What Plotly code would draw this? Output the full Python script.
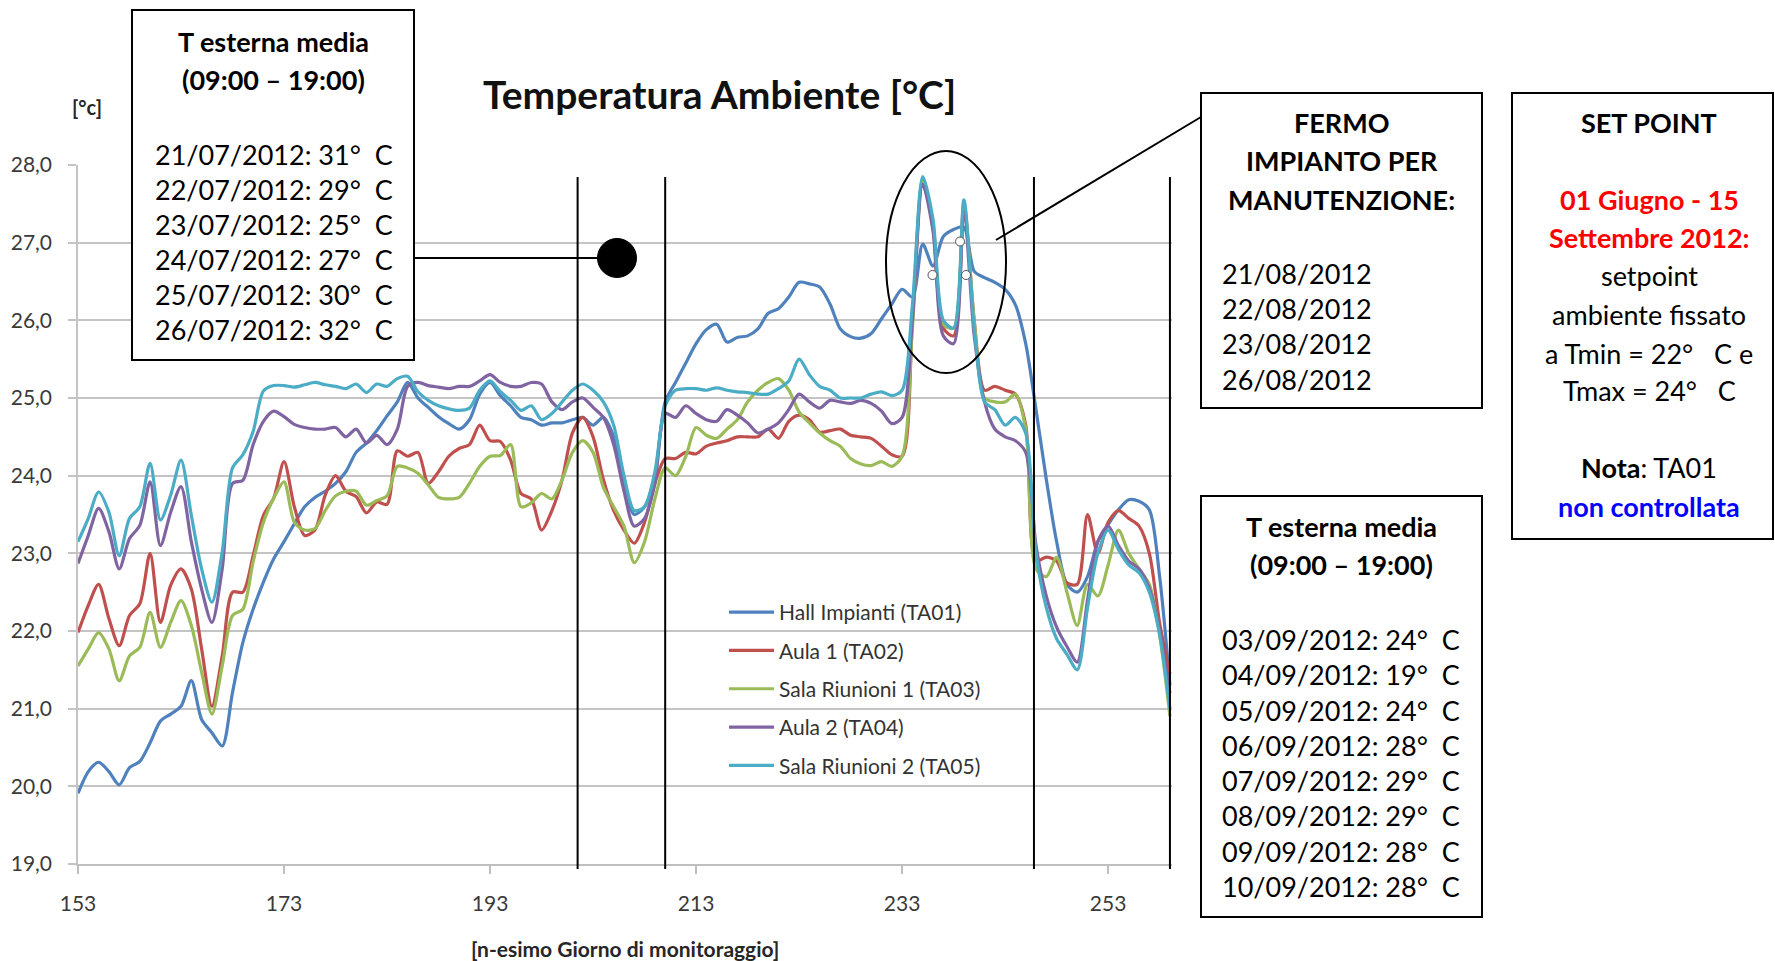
import plotly.graph_objects as go

# ---------------- data ----------------
days = list(range(153, 260))

ta01 = [19.91, 20.19, 20.31, 20.19, 20.02, 20.24, 20.32, 20.56, 20.84, 20.93,
        21.03, 21.36, 20.86, 20.69, 20.52, 21.21, 21.85, 22.28, 22.63, 22.93,
        23.15, 23.38, 23.60, 23.72, 23.80, 23.90, 24.05, 24.30, 24.42, 24.58,
        24.77, 24.95, 25.20, 25.00, 24.88, 24.76, 24.67, 24.60, 24.72, 25.05,
        25.20, 25.03, 24.90, 24.75, 24.72, 24.65, 24.68, 24.68, 24.72, 24.75,
        24.65, 24.75, 24.50, 23.90, 23.50, 23.60, 24.00, 24.95, 25.20, 25.45,
        25.70, 25.88, 25.95, 25.72, 25.78, 25.80, 25.89, 26.09, 26.15, 26.30,
        26.49, 26.47, 26.43, 26.21, 25.89, 25.79, 25.77, 25.83, 26.02, 26.21,
        26.40, 26.30, 26.98, 26.70, 27.08, 27.17, 27.20, 26.63, 26.55, 26.49,
        26.40, 26.20, 25.70, 24.85, 23.95, 23.15, 22.60, 22.50, 22.70, 23.15,
        23.37, 23.56, 23.69, 23.67, 23.56, 22.70, 21.30]

ta02 = [21.98, 22.33, 22.60, 22.16, 21.81, 22.20, 22.35, 23.00, 22.11, 22.59,
        22.80, 22.54, 21.77, 21.03, 21.68, 22.50, 22.50, 22.97, 23.49, 23.71,
        24.18, 23.60, 23.23, 23.30, 23.75, 24.00, 23.80, 23.73, 23.52, 23.66,
        23.63, 24.32, 24.25, 24.30, 23.90, 24.05, 24.25, 24.35, 24.40, 24.65,
        24.45, 24.44, 24.20, 23.77, 23.70, 23.30, 23.55, 23.95, 24.55, 24.75,
        24.50, 23.95, 23.55, 23.30, 23.13, 23.40, 23.90, 24.22, 24.22, 24.30,
        24.28, 24.38, 24.42, 24.45, 24.50, 24.50, 24.50, 24.60, 24.48, 24.70,
        24.78, 24.72, 24.56, 24.58, 24.60, 24.52, 24.50, 24.48, 24.38, 24.27,
        24.25, 26.00, 27.80, 27.20, 25.90, 25.80, 27.50, 26.00, 25.10, 25.15,
        25.10, 25.05, 24.65, 22.90, 22.95, 22.90, 22.62, 22.60, 23.50, 23.00,
        23.40, 23.55, 23.45, 23.35, 23.00, 22.10, 21.45]

ta03 = [21.55, 21.77, 21.98, 21.77, 21.36, 21.68, 21.79, 22.24, 21.79, 22.11,
        22.39, 22.07, 21.47, 20.93, 21.55, 22.20, 22.28, 22.89, 23.40, 23.71,
        23.92, 23.40, 23.30, 23.32, 23.55, 23.74, 23.80, 23.80, 23.62, 23.68,
        23.74, 24.12, 24.10, 24.03, 23.88, 23.72, 23.70, 23.72, 23.90, 24.12,
        24.25, 24.26, 24.40, 23.60, 23.65, 23.77, 23.70, 23.95, 24.30, 24.45,
        24.30, 23.85, 23.60, 23.35, 22.88, 23.15, 23.70, 24.10, 24.00, 24.25,
        24.62, 24.52, 24.48, 24.60, 24.72, 24.95, 25.10, 25.20, 25.25, 25.10,
        24.82, 24.68, 24.55, 24.45, 24.38, 24.22, 24.15, 24.13, 24.18, 24.12,
        24.25, 25.90, 27.80, 27.25, 25.95, 25.90, 27.45, 26.00, 25.00, 24.95,
        24.95, 25.05, 24.60, 22.80, 22.70, 22.95, 22.50, 22.07, 22.60, 22.45,
        22.85, 23.30, 23.00, 22.80, 22.60, 21.95, 20.90]

ta04 = [22.87, 23.23, 23.58, 23.28, 22.80, 23.19, 23.36, 23.92, 23.10, 23.53,
        23.86, 23.15, 22.54, 22.11, 22.80, 23.90, 23.94, 24.40, 24.70, 24.83,
        24.76, 24.66, 24.62, 24.60, 24.60, 24.62, 24.50, 24.60, 24.42, 24.52,
        24.40, 24.60, 25.15, 25.20, 25.16, 25.14, 25.12, 25.15, 25.15, 25.22,
        25.30, 25.20, 25.15, 25.15, 25.20, 25.18, 24.95, 24.85, 24.95, 25.00,
        24.88, 24.75, 24.40, 23.80, 23.35, 23.45, 23.90, 24.80, 24.75, 24.90,
        24.80, 24.72, 24.70, 24.85, 24.78, 24.68, 24.55, 24.60, 24.68, 24.85,
        25.05, 24.95, 24.87, 24.97, 24.95, 24.93, 24.97, 24.93, 24.83, 24.67,
        24.75, 26.00, 27.75, 27.15, 25.80, 25.70, 27.40, 25.80, 24.95, 24.60,
        24.50, 24.45, 24.30, 23.10, 22.45, 22.05, 21.80, 21.60, 22.40, 23.15,
        23.35, 23.10, 22.90, 22.80, 22.55, 22.00, 21.20]

ta05 = [23.15, 23.45, 23.79, 23.53, 22.97, 23.45, 23.60, 24.16, 23.43, 23.75,
        24.20, 23.49, 22.80, 22.37, 23.02, 24.10, 24.27, 24.57, 25.09, 25.16,
        25.16, 25.14, 25.17, 25.20, 25.17, 25.15, 25.12, 25.18, 25.07, 25.18,
        25.15, 25.25, 25.28, 25.08, 24.97, 24.90, 24.86, 24.84, 24.87, 25.10,
        25.22, 25.08, 24.97, 24.84, 24.90, 24.72, 24.80, 24.95, 25.10, 25.18,
        25.10, 24.95, 24.65, 24.00, 23.55, 23.60, 24.05, 24.90, 25.10, 25.12,
        25.12, 25.10, 25.13, 25.10, 25.08, 25.07, 25.05, 25.05, 25.12, 25.22,
        25.50, 25.30, 25.15, 25.10, 25.00, 25.00, 25.00, 25.05, 25.08, 25.03,
        25.10, 26.20, 27.85, 27.30, 26.00, 25.90, 27.55, 25.90, 24.95, 24.85,
        24.65, 24.75, 24.55, 23.00, 22.30, 21.90, 21.70, 21.50, 22.30, 23.00,
        23.30, 23.05, 22.85, 22.75, 22.50, 21.95, 21.00]

series_names = ["Hall Impianti (TA01)", "Aula 1 (TA02)", "Sala Riunioni 1 (TA03)",
                "Aula 2 (TA04)", "Sala Riunioni 2 (TA05)"]
series_values = [ta01, ta02, ta03, ta04, ta05]
series_colors = ["#4F81BD", "#C0504D", "#9BBB59", "#8064A2", "#4BACC6"]

y_tickvals = [19, 20, 21, 22, 23, 24, 25, 26, 27, 28]
y_ticktext = ["19,0", "20,0", "21,0", "22,0", "23,0", "24,0", "25,0", "26,0", "27,0", "28,0"]
x_tickvals = [153, 173, 193, 213, 233, 253]
x_ticktext = ["153", "173", "193", "213", "233", "253"]

period_lines = [201.5, 210.0, 245.8, 259.0]

box1_title = ["T esterna media", "(09:00 – 19:00)"]
box1_lines = ["21/07/2012: 31°", "22/07/2012: 29°", "23/07/2012: 25°",
              "24/07/2012: 27°", "25/07/2012: 30°", "26/07/2012: 32°"]
box2_title = ["FERMO", "IMPIANTO PER", "MANUTENZIONE:"]
box2_lines = ["21/08/2012", "22/08/2012", "23/08/2012", "26/08/2012"]
box4_title = ["T esterna media", "(09:00 – 19:00)"]
box4_lines = ["03/09/2012: 24°", "04/09/2012: 19°", "05/09/2012: 24°", "06/09/2012: 28°",
              "07/09/2012: 29°", "08/09/2012: 29°", "09/09/2012: 28°", "10/09/2012: 28°"]

# ---------------- layout geometry ----------------
W, H = 1775, 961
ML, MR, MT, MB = 78, 603, 165, 97
PW, PH = W - ML - MR, H - MT - MB


def px(x):
    return (x - ML) / PW


def py(y):
    return (H - MB - y) / PH


FONT = "Lato"
fig = go.Figure()

for name, vals, col in zip(series_names, series_values, series_colors):
    fig.add_trace(go.Scatter(
        x=days, y=vals, name=name, mode="lines", legendgroup=name,
        line=dict(color=col, width=3.2, shape="spline", smoothing=0.8),
    ))

shapes = []
annotations = []

# vertical period lines
for d in period_lines:
    shapes.append(dict(type="line", xref="x", yref="paper", x0=d, x1=d,
                       y0=py(869), y1=py(177), line=dict(color="black", width=2)))


def rect(x0, y0, x1, y1):
    shapes.append(dict(type="rect", xref="paper", yref="paper",
                       x0=px(x0), x1=px(x1), y0=py(y1), y1=py(y0),
                       line=dict(color="black", width=2), fillcolor="white", layer="above"))


rect(132, 10, 414, 360)
rect(1201, 93, 1482, 408)
rect(1512, 93, 1773, 539)
rect(1201, 496, 1482, 917)

# ellipse, callouts, dot
shapes.append(dict(type="circle", xref="paper", yref="paper",
                   x0=px(886), x1=px(1006), y0=py(373), y1=py(151),
                   line=dict(color="black", width=2)))
shapes.append(dict(type="line", xref="paper", yref="paper",
                   x0=px(996), y0=py(240), x1=px(1201), y1=py(117),
                   line=dict(color="black", width=2)))
shapes.append(dict(type="line", xref="paper", yref="paper",
                   x0=px(414), y0=py(258), x1=px(600), y1=py(258),
                   line=dict(color="black", width=2)))
shapes.append(dict(type="circle", xref="paper", yref="paper",
                   x0=px(597.5), x1=px(636.5), y0=py(277.5), y1=py(238.5),
                   fillcolor="black", line=dict(color="black", width=1)))
for cx, cy in [(932.5, 275), (960, 241.5), (966, 275)]:
    shapes.append(dict(type="circle", xref="paper", yref="paper",
                       x0=px(cx - 4.5), x1=px(cx + 4.5), y0=py(cy + 4.5), y1=py(cy - 4.5),
                       fillcolor="white", line=dict(color="#555555", width=1)))


def text(x, y, s, size=27, color="black", anchor="left", bold=False):
    if bold:
        s = "<b>" + s + "</b>"
    annotations.append(dict(xref="paper", yref="paper", x=px(x), y=py(y), text=s,
                            showarrow=False, xanchor=anchor, yanchor="middle",
                            font=dict(family=FONT, size=size, color=color)))


NB = "\u00a0"
# box 1
for i, s in enumerate(box1_title):
    text(273, 41 + i * 38.5, s, bold=True, anchor="center")
for i, s in enumerate(box1_lines):
    text(153, 154 + i * 35.1, s + NB * 2 + "C")
# box 2
for i, s in enumerate(box2_title):
    text(1341.5, 122.3 + i * 38.5, s, bold=True, anchor="center")
for i, s in enumerate(box2_lines):
    text(1220, 273 + i * 35.4, s)
# box 3 (set point)
c3 = 1649
text(c3, 122.3, "SET POINT", bold=True, anchor="center")
text(c3, 199.2, "01 Giugno - 15", bold=True, anchor="center", color="#FF0000")
text(c3, 237.7, "Settembre 2012:", bold=True, anchor="center", color="#FF0000")
text(c3, 275.5, "setpoint", anchor="center")
text(c3, 314.5, "ambiente fissato", anchor="center")
text(c3, 353, "a Tmin = 22°" + NB * 3 + "C e", anchor="center")
text(c3, 390.5, "Tmax = 24°" + NB * 3 + "C", anchor="center")
text(c3, 467.5, "<b>Nota</b>: TA01", anchor="center")
text(c3, 506, "non controllata", bold=True, anchor="center", color="#0000FF")
# box 4
for i, s in enumerate(box4_title):
    text(1341.5, 526.5 + i * 37.5, s, bold=True, anchor="center")
for i, s in enumerate(box4_lines):
    text(1220, 639.6 + i * 35.25, s + NB * 2 + "C")

# chart title and axis labels
text(719, 94, "Temperatura Ambiente [°C]", size=39, bold=True, anchor="center", color="#111111")
text(87, 107, "[°c]", size=20, bold=True, anchor="center", color="#262626")
text(625, 948, "[n-esimo Giorno di monitoraggio]", size=21, bold=True, anchor="center", color="#262626")

fig.update_layout(
    width=W, height=H,
    margin=dict(l=ML, r=MR, t=MT, b=MB, autoexpand=False),
    paper_bgcolor="white", plot_bgcolor="white",
    showlegend=True,
    legend=dict(x=px(724), y=py(592), xanchor="left", yanchor="top",
                font=dict(family=FONT, size=21, color="#333333"),
                bgcolor="rgba(0,0,0,0)", tracegroupgap=8, itemwidth=45),
    xaxis=dict(range=[153, 259.2], tickvals=x_tickvals, ticktext=x_ticktext,
               showgrid=False, zeroline=False, showline=True, linecolor="#bfbfbf", linewidth=2,
               ticks="outside", ticklen=8, tickcolor="#bfbfbf", tickwidth=2,
               ticklabelstandoff=12,
               tickfont=dict(family=FONT, size=21, color="#3a3a3a")),
    yaxis=dict(range=[19, 28], tickvals=y_tickvals, ticktext=y_ticktext,
               showgrid=True, gridcolor="#c4c4c4", gridwidth=2, zeroline=False,
               showline=True, linecolor="#c4c4c4", linewidth=1.5,
               ticks="outside", ticklen=8, tickcolor="#c4c4c4", tickwidth=2,
               ticklabelstandoff=12,
               tickfont=dict(family=FONT, size=21, color="#3a3a3a")),
    shapes=shapes, annotations=annotations,
)

fig.write_html("out.html", config={"displayModeBar": False},
               post_script="document.body.style.margin='0';document.body.style.overflow='hidden';")
